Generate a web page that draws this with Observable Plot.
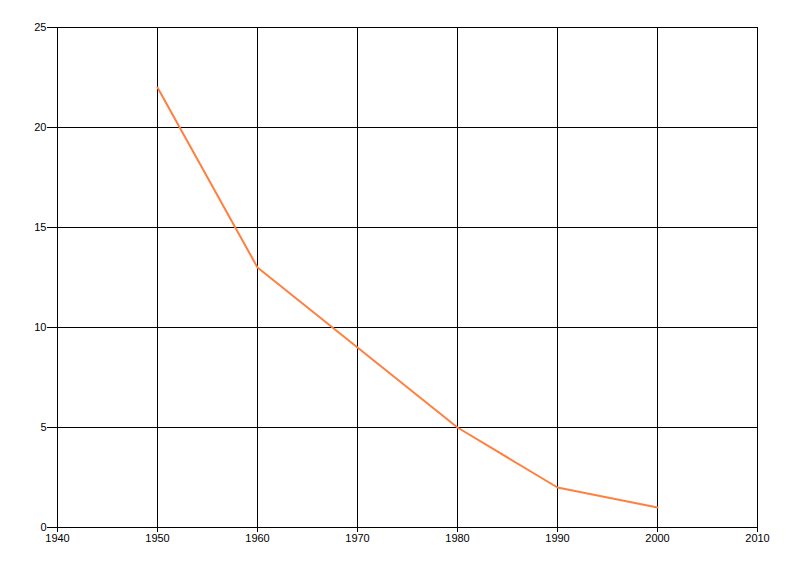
<!DOCTYPE html>
<html>
<head>
<meta charset="utf-8">
<script src="https://cdn.jsdelivr.net/npm/d3@7"></script>
<script src="https://cdn.jsdelivr.net/npm/@observablehq/plot@0.6"></script>
<style>
  html, body { margin: 0; padding: 0; background: #fff; }
  #chart svg { display: block; }
</style>
</head>
<body>
<div id="chart"></div>
<script>
const years = [1950, 1960, 1970, 1980, 1990, 2000];
const values = [22, 13, 9, 5, 2, 1];
const xTicks = [1940, 1950, 1960, 1970, 1980, 1990, 2000, 2010];
const yTicks = [0, 5, 10, 15, 20, 25];

const data = years.map((y, i) => ({year: y, value: values[i]}));

const chart = Plot.plot({
  width: 800,
  height: 576,
  marginLeft: 57,
  marginRight: 43,
  marginTop: 27,
  marginBottom: 49,
  style: {fontFamily: "'Liberation Sans', Arial, sans-serif", fontSize: "11px", color: "#000", background: "#fff"},
  x: {domain: [1940, 2010]},
  y: {domain: [0, 25]},
  marks: [
    Plot.ruleX(xTicks, {stroke: "#000", strokeOpacity: 1, strokeWidth: 1, shapeRendering: "crispEdges"}),
    Plot.ruleY(yTicks, {stroke: "#000", strokeOpacity: 1, strokeWidth: 1, shapeRendering: "crispEdges"}),
    Plot.axisX({ticks: xTicks, tickFormat: d => String(d), tickSize: 5, tickPadding: 2, label: null, stroke: "#000", fill: "#000", strokeOpacity: 1}),
    Plot.axisY({ticks: yTicks, tickFormat: d => String(d), tickSize: 10, tickPadding: 1, label: null, stroke: "#000", fill: "#000", strokeOpacity: 1}),
    Plot.line(data, {x: "year", y: "value", stroke: "#ff7f3f", strokeWidth: 2})
  ]
});
document.getElementById("chart").appendChild(chart);
</script>
</body>
</html>
